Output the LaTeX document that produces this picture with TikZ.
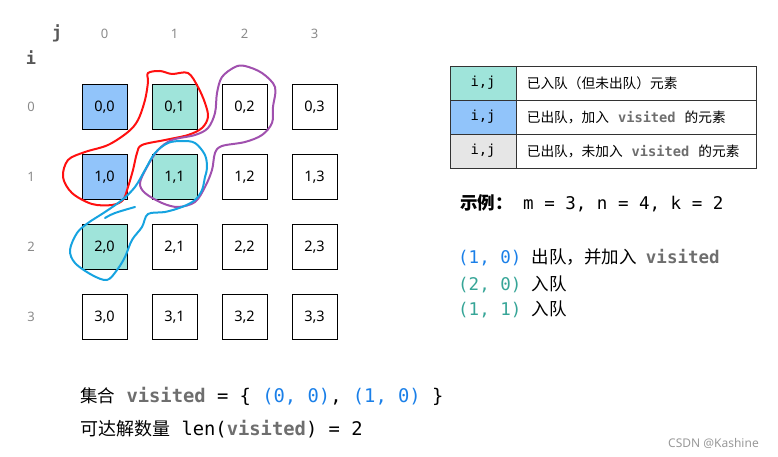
\documentclass[tikz,border=0pt]{standalone}
\usepackage{fontspec}
\setmainfont{Noto Sans}
\newfontfamily\cjk{Noto Sans CJK SC}
\newfontfamily\mono{DejaVu Sans Mono}
\definecolor{tealfill}{HTML}{9FE4DA}
\definecolor{bluefill}{HTML}{91C4FA}
\definecolor{grayfill}{HTML}{E6E6E6}
\definecolor{bluetxt}{HTML}{1A7FE8}
\definecolor{tealtxt}{HTML}{36A597}
\definecolor{vgray}{HTML}{6E6E6E}
\definecolor{numgray}{HTML}{8A8A8A}
\definecolor{inkred}{HTML}{FF1010}
\definecolor{inkpurple}{HTML}{A050AE}
\definecolor{inkblue}{HTML}{16A3E0}
\newcommand{\vis}[1]{{\mono\bfseries\color{vgray}#1}}
\newcommand{\gap}{\hspace{9pt}}
\begin{document}
\begin{tikzpicture}[x=1pt,y=-1pt,
  cell/.style={draw=black, line width=0.9pt, minimum size=45pt, inner sep=0pt,
    font=\fontsize{14.5}{14.5}\selectfont},
  hdr/.style={text=numgray, font=\fontsize{13}{13}\selectfont},
  axis/.style={text=vgray!80!black, font=\mono\bfseries\fontsize{17}{17}\selectfont},
  legkey/.style={draw=black!80, line width=0.8pt, minimum width=66pt, minimum height=34pt,
    inner sep=0pt, font=\mono\fontsize{13.8}{13.8}\selectfont},
  legtxt/.style={draw=black!80, line width=0.8pt, minimum height=34pt, text width=220pt,
    inner xsep=10pt, inner ysep=0pt, align=left, anchor=west,
    font=\cjk\fontsize{13.7}{13.7}\selectfont},
  exline/.style={anchor=base west, inner sep=0pt, font=\mono\fontsize{17.5}{17.5}\selectfont},
  botline/.style={anchor=base west, inner sep=0pt, font=\mono\fontsize{18.8}{18.8}\selectfont},
  ink/.style={line width=2pt, line cap=round, line join=round}
]
\useasboundingbox (0,0) rectangle (778,457);

% axes labels
\node[axis] (jlab) at (57,33) {j};
\node[axis] (ilab) at (31,58) {i};
\foreach \k in {0,1,2,3}{
  \node[hdr] (col\k) at (104.5+70*\k,34) {\k};
  \node[hdr] (row\k) at (31,107+70*\k) {\k};
}

% grid
\foreach \i in {0,1,2,3}{
  \foreach \j in {0,1,2,3}{
    \node[cell, fill=white] (c\i\j) at (104.5+70*\j,107+70*\i) {\i,\j};
  }
}
\node[cell, fill=bluefill] (b00) at (c00) {0,0};
\node[cell, fill=bluefill] (b10) at (c10) {1,0};
\node[cell, fill=tealfill] (t01) at (c01) {0,1};
\node[cell, fill=tealfill] (t11) at (c11) {1,1};
\node[cell, fill=tealfill] (t20) at (c20) {2,0};

% freehand strokes
\draw[ink, inkred] plot[smooth cycle, tension=0.55] coordinates {
 (148,73) (160,71) (172,74) (188,73) (198,87) (205,103) (208,117) (202,128)
 (188,135) (165,140) (142,145) (137,153) (133,170) (128,187) (123,200)
 (112,205) (92,204) (72,193) (63,177) (68,160) (85,152) (108,145) (128,132)
 (138,120) (145,100) (148,82)};
\draw[ink, inkpurple] plot[smooth cycle, tension=0.55] coordinates {
 (245,66) (262,73) (275,87) (273,107) (272,123) (262,135) (245,142) (222,146)
 (215,153) (212,170) (205,187) (195,202) (178,207) (162,203) (145,193)
 (140,183) (147,167) (158,150) (172,140) (195,135) (208,128) (215,113)
 (217,93) (222,77) (235,67)};
\draw[ink, inkblue] plot[smooth cycle, tension=0.55] coordinates {
 (207,168) (205,155) (195,143) (182,141) (168,143) (155,153) (145,170)
 (135,187) (122,200) (105,212) (88,223) (77,233) (70,250) (75,263) (92,275)
 (107,280) (117,270) (125,257) (132,240) (142,227) (148,214) (165,212)
 (182,207) (195,200) (202,190) (205,177)};
\draw[ink, inkblue] plot[smooth, tension=0.6] coordinates {(105,218) (115,213) (135,207)};

% legend
\node[legkey, fill=tealfill] (k1) at (483,83) {i,j};
\node[legkey, fill=bluefill] (k2) at (483,117) {i,j};
\node[legkey, fill=grayfill] (k3) at (483,151) {i,j};
\node[legtxt] (l1) at (k1.east) {已入队（但未出队）元素};
\node[legtxt] (l2) at (k2.east) {已出队，加入\gap\vis{visited}\gap 的元素};
\node[legtxt] (l3) at (k3.east) {已出队，未加入\gap\vis{visited}\gap 的元素};

% example
\node[exline] (ex0) at (460,209) {{\cjk\bfseries 示例：} m = 3, n = 4, k = 2};
\node[exline] (ex1) at (458,263) {{\color{bluetxt}(1, 0)} {\cjk 出队，并加入}\gap\vis{visited}};
\node[exline] (ex2) at (458,290) {{\color{tealtxt}(2, 0)} {\cjk 入队}};
\node[exline] (ex3) at (458,315) {{\color{tealtxt}(1, 1)} {\cjk 入队}};

% bottom lines
\node[botline] (bot1) at (80,402) {{\cjk\fontsize{17.5}{17.5}\selectfont 集合} \vis{visited} = \{ {\color{bluetxt}(0, 0)}, {\color{bluetxt}(1, 0)} \}};
\node[botline] (bot2) at (80,435) {{\cjk\fontsize{18}{18}\selectfont 可达解数量} len(\vis{visited}) = 2};

% watermark
\node[anchor=base west, inner sep=0pt, text=black!40, font=\fontsize{12}{12}\selectfont] (wm) at (668,447) {CSDN @Kashine};
\end{tikzpicture}
\end{document}
